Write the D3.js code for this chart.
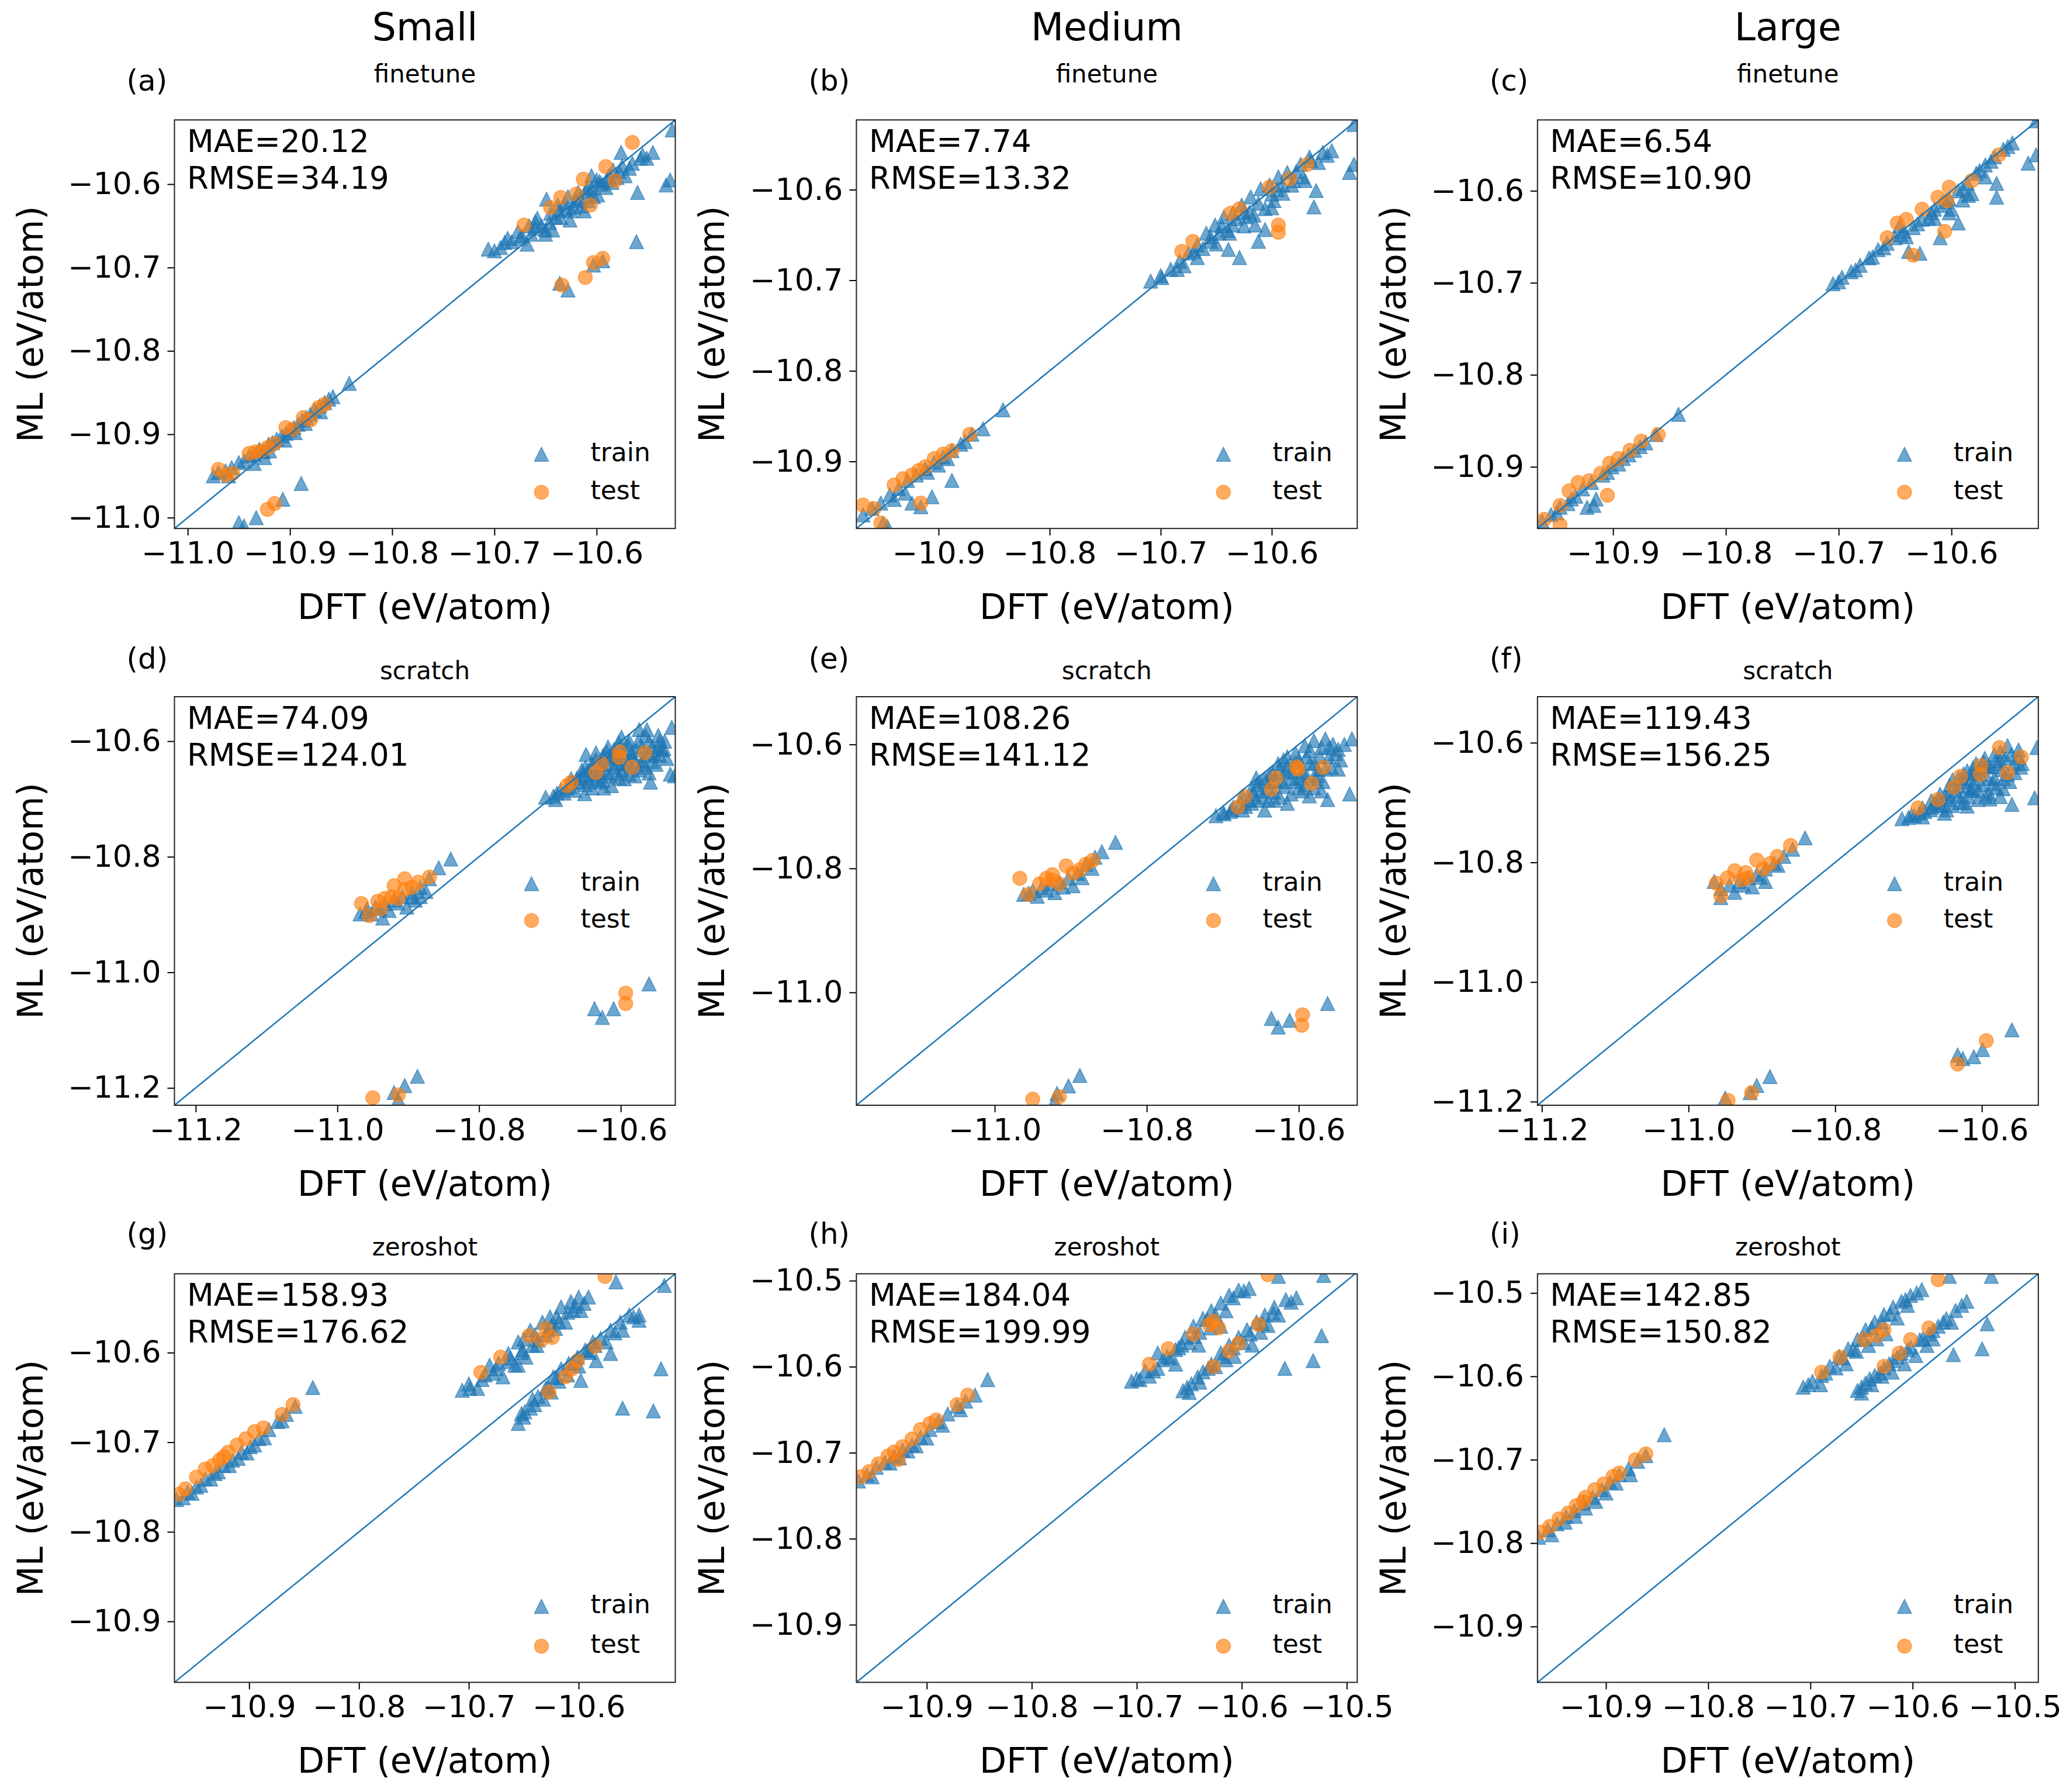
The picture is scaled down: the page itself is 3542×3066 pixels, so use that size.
<!DOCTYPE html>
<html>
<head>
<meta charset="utf-8">
<script src="https://cdn.jsdelivr.net/npm/d3@7"></script>
<style>
body{margin:0;background:#fff;}
text{font-family:'DejaVu Sans',sans-serif;fill:#000;}
</style>
</head>
<body>
<div id="graphWrapper"></div>
<script>
//chart text
const columnTitles = ['Small','Medium','Large'];
const rowTitles = ['finetune','scratch','zeroshot'];
const panelLetters = ['(a)','(b)','(c)','(d)','(e)','(f)','(g)','(h)','(i)'];
const maeValues = ['20.12','7.74','6.54','74.09','108.26','119.43','158.93','184.04','142.85'];
const rmseValues = ['34.19','13.32','10.90','124.01','141.12','156.25','176.62','199.99','150.82'];
const seriesNames = ['train','test'];

//axis limits, one per panel
const xDomains = [[-11.013,-10.523],[-10.974,-10.523],[-10.967,-10.523],
                  [-11.230,-10.523],[-11.182,-10.523],[-11.206,-10.523],
                  [-10.968,-10.512],[-10.967,-10.490],[-10.967,-10.477]];
const yDomains = [[-11.013,-10.523],[-10.974,-10.523],[-10.967,-10.523],
                  [-11.230,-10.523],[-11.182,-10.523],[-11.206,-10.523],
                  [-10.968,-10.512],[-10.967,-10.492],[-10.967,-10.477]];

//tick values
const ticksA = [-11.0,-10.9,-10.8,-10.7,-10.6];
const ticksB = [-10.9,-10.8,-10.7,-10.6];
const ticksD = [-11.2,-11.0,-10.8,-10.6];
const ticksE = [-11.0,-10.8,-10.6];
const ticksH = [-10.9,-10.8,-10.7,-10.6,-10.5];
const xTicks = [ticksA,ticksB,ticksB,ticksD,ticksE,ticksD,ticksB,ticksH,ticksH];
const yTicks = [ticksA,ticksB,ticksB,ticksD,ticksE,ticksD,ticksB,ticksH,ticksH];

//points [DFT, ML]
const trainA = [[-10.975,-10.950],[-10.970,-10.946],[-10.963,-10.944],[-10.957,-10.940],[-10.950,-10.934],[-10.945,-10.932],[-10.940,-10.926],[-10.935,-10.924],[-10.930,-10.918],[-10.926,-10.921],[-10.921,-10.912],[-10.917,-10.910],[-10.913,-10.906],[-10.908,-10.902],[-10.904,-10.899],[-10.900,-10.895],[-10.896,-10.892],[-10.892,-10.888],[-10.888,-10.883],[-10.884,-10.880],[-10.880,-10.876],[-10.876,-10.871],[-10.871,-10.866],[-10.866,-10.862],[-10.862,-10.858],[-10.858,-10.855],[-10.842,-10.839],[-10.920,-10.920],[-10.905,-10.907],[-10.935,-10.935],[-10.960,-10.950],[-10.925,-10.928],[-10.895,-10.898],[-10.885,-10.887],[-10.870,-10.873],
  [-10.889,-10.959],[-10.907,-10.978],[-10.933,-11.000],[-10.950,-11.006],[-10.945,-11.010],
  [-10.706,-10.678],[-10.700,-10.680],[-10.694,-10.676],[-10.687,-10.665],[-10.683,-10.669],[-10.677,-10.657],[-10.673,-10.662],[-10.666,-10.650],[-10.664,-10.660],[-10.658,-10.641],[-10.654,-10.650],[-10.649,-10.618],[-10.643,-10.655],[-10.640,-10.640],[-10.637,-10.632],[-10.631,-10.622],[-10.626,-10.643],[-10.622,-10.628],[-10.616,-10.618],[-10.612,-10.632],[-10.609,-10.604],[-10.605,-10.590],[-10.603,-10.615],[-10.599,-10.613],[-10.597,-10.597],[-10.591,-10.604],[-10.588,-10.590],[-10.584,-10.583],[-10.578,-10.585],[-10.572,-10.590],[-10.568,-10.581],[-10.576,-10.562],[-10.557,-10.569],[-10.551,-10.569],[-10.545,-10.562],[-10.526,-10.535],[-10.528,-10.595],[-10.532,-10.601],[-10.560,-10.610],[-10.561,-10.669],[-10.636,-10.719],[-10.628,-10.727],[-10.603,-10.697],[-10.594,-10.692],[-10.646,-10.646],[-10.620,-10.620],[-10.610,-10.608],[-10.595,-10.600],[-10.580,-10.592],[-10.630,-10.630],[-10.650,-10.660],[-10.615,-10.626],[-10.660,-10.653],
  [-10.690,-10.670],[-10.675,-10.665],[-10.660,-10.645],[-10.650,-10.655],[-10.635,-10.640],[-10.625,-10.632],[-10.618,-10.610],[-10.605,-10.605],[-10.600,-10.595],[-10.590,-10.595],[-10.575,-10.578],[-10.565,-10.575],[-10.555,-10.565],[-10.645,-10.635],[-10.668,-10.672],[-10.638,-10.625],[-10.628,-10.615],[-10.608,-10.620],[-10.585,-10.598]];
const testA = [[-10.970,-10.942],[-10.963,-10.949],[-10.956,-10.947],[-10.940,-10.923],[-10.934,-10.921],[-10.928,-10.920],[-10.922,-10.916],[-10.915,-10.911],[-10.904,-10.892],[-10.897,-10.894],[-10.887,-10.880],[-10.880,-10.883],[-10.872,-10.868],[-10.866,-10.864],[-10.922,-10.990],[-10.915,-10.983],
  [-10.565,-10.550],[-10.591,-10.579],[-10.613,-10.594],[-10.582,-10.596],[-10.620,-10.612],[-10.635,-10.616],[-10.645,-10.628],[-10.606,-10.625],[-10.671,-10.649],[-10.594,-10.689],[-10.603,-10.694],[-10.611,-10.712],[-10.634,-10.721]];

const trainB = [[-10.968,-10.959],[-10.960,-10.952],[-10.952,-10.946],[-10.944,-10.937],[-10.936,-10.930],[-10.928,-10.921],[-10.920,-10.915],[-10.912,-10.908],[-10.904,-10.901],[-10.896,-10.895],[-10.888,-10.888],[-10.880,-10.881],[-10.870,-10.870],[-10.860,-10.864],[-10.842,-10.843],[-10.888,-10.921],[-10.906,-10.939],[-10.924,-10.946],[-10.916,-10.950],[-10.950,-10.968],[-10.946,-10.972],[-10.930,-10.935],[-10.910,-10.912],[-10.892,-10.897],[-10.940,-10.942],[-10.900,-10.904],[-10.876,-10.878],
  [-10.709,-10.701],[-10.699,-10.697],[-10.691,-10.688],[-10.683,-10.679],[-10.675,-10.670],[-10.667,-10.661],[-10.659,-10.648],[-10.651,-10.639],[-10.643,-10.630],[-10.635,-10.626],[-10.627,-10.617],[-10.619,-10.608],[-10.610,-10.599],[-10.602,-10.595],[-10.594,-10.586],[-10.586,-10.581],[-10.574,-10.572],[-10.566,-10.564],[-10.554,-10.559],[-10.546,-10.557],[-10.572,-10.586],[-10.582,-10.595],[-10.590,-10.604],[-10.606,-10.621],[-10.623,-10.630],[-10.635,-10.639],[-10.647,-10.648],[-10.655,-10.657],[-10.667,-10.675],[-10.679,-10.684],[-10.615,-10.639],[-10.598,-10.612],[-10.530,-10.581],[-10.526,-10.572],[-10.560,-10.601],[-10.562,-10.619],[-10.606,-10.644],[-10.612,-10.657],[-10.639,-10.666],[-10.629,-10.675],[-10.526,-10.528],[-10.550,-10.562],[-10.640,-10.645],[-10.620,-10.625],[-10.580,-10.590],
  [-10.700,-10.695],[-10.685,-10.688],[-10.670,-10.668],[-10.655,-10.652],[-10.645,-10.640],[-10.632,-10.632],[-10.625,-10.625],[-10.612,-10.615],[-10.600,-10.605],[-10.590,-10.595],[-10.578,-10.580],[-10.565,-10.568],[-10.558,-10.570],[-10.600,-10.620],[-10.625,-10.640],[-10.650,-10.660],[-10.570,-10.590],[-10.662,-10.665],[-10.638,-10.648],[-10.616,-10.628],[-10.595,-10.600]];
const testB = [[-10.968,-10.948],[-10.958,-10.952],[-10.952,-10.968],[-10.940,-10.926],[-10.932,-10.919],[-10.924,-10.915],[-10.912,-10.906],[-10.904,-10.897],[-10.896,-10.892],[-10.888,-10.888],[-10.872,-10.870],[-10.916,-10.946],[-10.918,-10.910],
  [-10.681,-10.668],[-10.671,-10.657],[-10.637,-10.626],[-10.629,-10.621],[-10.602,-10.597],[-10.584,-10.588],[-10.568,-10.572],[-10.594,-10.639],[-10.594,-10.647]];

const trainC = [[-10.963,-10.959],[-10.955,-10.952],[-10.947,-10.944],[-10.937,-10.935],[-10.927,-10.924],[-10.919,-10.917],[-10.909,-10.909],[-10.901,-10.900],[-10.891,-10.891],[-10.881,-10.882],[-10.871,-10.874],[-10.862,-10.865],[-10.842,-10.843],[-10.923,-10.944],[-10.917,-10.942],[-10.915,-10.935],[-10.933,-10.932],[-10.905,-10.906],[-10.895,-10.897],[-10.940,-10.940],[-10.950,-10.950],[-10.886,-10.887],[-10.876,-10.878],
  [-10.705,-10.701],[-10.697,-10.694],[-10.689,-10.688],[-10.681,-10.681],[-10.673,-10.673],[-10.665,-10.664],[-10.657,-10.657],[-10.650,-10.651],[-10.642,-10.644],[-10.634,-10.640],[-10.626,-10.631],[-10.618,-10.624],[-10.610,-10.616],[-10.602,-10.609],[-10.594,-10.600],[-10.586,-10.592],[-10.578,-10.581],[-10.570,-10.572],[-10.562,-10.563],[-10.554,-10.555],[-10.546,-10.548],[-10.532,-10.570],[-10.525,-10.561],[-10.525,-10.524],[-10.560,-10.592],[-10.560,-10.607],[-10.594,-10.635],[-10.610,-10.651],[-10.628,-10.668],[-10.638,-10.666],[-10.646,-10.638],[-10.602,-10.624],[-10.582,-10.603],[-10.620,-10.630],[-10.590,-10.610],[-10.570,-10.585],
  [-10.700,-10.699],[-10.685,-10.686],[-10.670,-10.672],[-10.660,-10.662],[-10.645,-10.648],[-10.630,-10.636],[-10.615,-10.620],[-10.605,-10.612],[-10.590,-10.598],[-10.575,-10.578],[-10.565,-10.568],[-10.550,-10.552],[-10.615,-10.630],[-10.600,-10.620],[-10.585,-10.605],[-10.640,-10.650]];
const testC = [[-10.961,-10.957],[-10.947,-10.942],[-10.939,-10.926],[-10.931,-10.917],[-10.921,-10.915],[-10.911,-10.907],[-10.903,-10.896],[-10.895,-10.891],[-10.885,-10.882],[-10.875,-10.872],[-10.860,-10.865],[-10.905,-10.931],[-10.947,-10.963],
  [-10.657,-10.651],[-10.648,-10.635],[-10.640,-10.631],[-10.626,-10.620],[-10.612,-10.607],[-10.602,-10.596],[-10.582,-10.589],[-10.558,-10.561],[-10.606,-10.644],[-10.634,-10.670],[-10.604,-10.611]];

const trainD = [[-10.968,-10.899],[-10.958,-10.890],[-10.946,-10.887],[-10.933,-10.881],[-10.920,-10.875],[-10.908,-10.869],[-10.895,-10.862],[-10.883,-10.853],[-10.870,-10.838],[-10.857,-10.819],[-10.840,-10.804],[-10.952,-10.899],[-10.927,-10.893],[-10.902,-10.887],[-10.883,-10.869],[-10.936,-10.906],[-10.915,-10.880],[-10.890,-10.875],[-10.960,-10.895],[-10.940,-10.890],[-10.895,-10.870],[-10.875,-10.860],
  [-10.706,-10.697],[-10.692,-10.701],[-10.676,-10.681],[-10.668,-10.671],[-10.657,-10.664],[-10.649,-10.623],[-10.635,-10.620],[-10.629,-10.650],[-10.618,-10.610],[-10.607,-10.627],[-10.599,-10.593],[-10.588,-10.600],[-10.574,-10.580],[-10.563,-10.580],[-10.547,-10.590],[-10.539,-10.613],[-10.528,-10.576],[-10.530,-10.657],[-10.524,-10.660],[-10.558,-10.671],[-10.651,-10.691],[-10.624,-10.681],[-10.613,-10.677],[-10.602,-10.664],[-10.588,-10.657],[-10.574,-10.650],[-10.569,-10.634],[-10.596,-10.640],[-10.629,-10.671],[-10.640,-10.681],[-10.662,-10.664],[-10.646,-10.650],[-10.547,-10.610],[-10.552,-10.623],[-10.585,-10.620],[-10.610,-10.645],[-10.620,-10.655],[-10.580,-10.635],[-10.560,-10.600],[-10.600,-10.615],[-10.640,-10.660],[-10.570,-10.610],[-10.590,-10.640],[-10.615,-10.630],
  [-10.680,-10.690],[-10.665,-10.685],[-10.650,-10.675],[-10.635,-10.665],[-10.625,-10.668],[-10.605,-10.655],[-10.595,-10.665],[-10.580,-10.660],[-10.565,-10.645],[-10.555,-10.635],[-10.545,-10.625],[-10.560,-10.620],[-10.575,-10.600],[-10.590,-10.605],[-10.610,-10.615],[-10.625,-10.625],[-10.640,-10.640],[-10.655,-10.650],[-10.670,-10.665],[-10.690,-10.690],[-10.600,-10.630],[-10.620,-10.640],[-10.585,-10.625],[-10.565,-10.590],[-10.545,-10.600],
  [-10.695,-10.695],[-10.685,-10.685],[-10.672,-10.678],[-10.660,-10.670],[-10.652,-10.658],[-10.645,-10.670],[-10.632,-10.655],[-10.628,-10.640],[-10.615,-10.660],[-10.612,-10.625],[-10.605,-10.638],[-10.598,-10.650],[-10.592,-10.620],[-10.585,-10.645],[-10.578,-10.615],[-10.572,-10.640],[-10.566,-10.625],[-10.560,-10.655],[-10.555,-10.610],[-10.550,-10.640],[-10.542,-10.615],[-10.538,-10.600],[-10.535,-10.630],[-10.603,-10.602],[-10.620,-10.618],[-10.635,-10.632],[-10.650,-10.645],
  [-10.637,-11.063],[-10.626,-11.078],[-10.610,-11.063],[-10.560,-11.020],[-10.887,-11.180],[-10.905,-11.196],[-10.920,-11.208],[-10.914,-11.220]];
const testD = [[-10.966,-10.881],[-10.955,-10.902],[-10.943,-10.877],[-10.933,-10.872],[-10.923,-10.869],[-10.914,-10.872],[-10.905,-10.856],[-10.895,-10.853],[-10.886,-10.844],[-10.870,-10.835],[-10.905,-10.838],[-10.920,-10.850],[-10.939,-10.890],
  [-10.676,-10.677],[-10.670,-10.671],[-10.635,-10.654],[-10.627,-10.639],[-10.602,-10.618],[-10.602,-10.628],[-10.584,-10.645],[-10.566,-10.620],
  [-10.593,-11.036],[-10.593,-11.054],[-10.950,-11.217],[-10.914,-11.212]];

const trainE = [[-10.962,-10.842],[-10.950,-10.836],[-10.938,-10.831],[-10.927,-10.825],[-10.915,-10.822],[-10.903,-10.816],[-10.891,-10.808],[-10.880,-10.793],[-10.868,-10.782],[-10.859,-10.773],[-10.841,-10.758],[-10.944,-10.845],[-10.921,-10.839],[-10.897,-10.828],[-10.910,-10.830],[-10.955,-10.840],[-10.932,-10.835],[-10.885,-10.815],[-10.872,-10.800],
  [-10.709,-10.715],[-10.698,-10.712],[-10.686,-10.701],[-10.674,-10.683],[-10.662,-10.672],[-10.651,-10.660],[-10.639,-10.649],[-10.627,-10.631],[-10.615,-10.620],[-10.604,-10.614],[-10.592,-10.602],[-10.580,-10.594],[-10.565,-10.591],[-10.548,-10.608],[-10.530,-10.591],[-10.562,-10.689],[-10.533,-10.680],[-10.645,-10.706],[-10.615,-10.695],[-10.586,-10.683],[-10.568,-10.660],[-10.598,-10.654],[-10.633,-10.677],[-10.662,-10.695],[-10.674,-10.706],[-10.580,-10.631],[-10.557,-10.637],[-10.621,-10.660],[-10.656,-10.654],[-10.609,-10.643],[-10.640,-10.670],[-10.600,-10.670],[-10.590,-10.620],[-10.625,-10.640],[-10.575,-10.650],
  [-10.690,-10.708],[-10.670,-10.700],[-10.655,-10.690],[-10.640,-10.690],[-10.625,-10.685],[-10.610,-10.680],[-10.595,-10.675],[-10.580,-10.670],[-10.570,-10.675],[-10.650,-10.675],[-10.630,-10.660],[-10.610,-10.655],[-10.590,-10.650],[-10.575,-10.640],[-10.560,-10.620],[-10.545,-10.625],[-10.615,-10.635],[-10.600,-10.625],[-10.585,-10.610],[-10.570,-10.605],[-10.645,-10.655],[-10.660,-10.680],[-10.555,-10.600],
  [-10.700,-10.710],[-10.688,-10.705],[-10.676,-10.695],[-10.665,-10.690],[-10.655,-10.665],[-10.648,-10.685],[-10.638,-10.660],[-10.632,-10.690],[-10.620,-10.668],[-10.618,-10.645],[-10.605,-10.660],[-10.605,-10.630],[-10.595,-10.645],[-10.592,-10.665],[-10.585,-10.630],[-10.578,-10.655],[-10.572,-10.620],[-10.565,-10.640],[-10.560,-10.605],[-10.552,-10.615],[-10.548,-10.640],[-10.540,-10.600],[-10.620,-10.625],[-10.635,-10.645],
  [-10.636,-11.042],[-10.627,-11.056],[-10.612,-11.045],[-10.562,-11.018],[-10.888,-11.134],[-10.903,-11.151],[-10.918,-11.163],[-10.921,-11.175]];
const testE = [[-10.967,-10.816],[-10.956,-10.842],[-10.941,-10.825],[-10.932,-10.816],[-10.924,-10.819],[-10.915,-10.825],[-10.906,-10.796],[-10.897,-10.808],[-10.888,-10.802],[-10.880,-10.793],[-10.871,-10.787],[-10.924,-10.810],
  [-10.680,-10.701],[-10.671,-10.684],[-10.636,-10.672],[-10.630,-10.654],[-10.601,-10.640],[-10.603,-10.636],[-10.583,-10.663],[-10.568,-10.637],
  [-10.595,-11.036],[-10.596,-11.053],[-10.950,-11.172],[-10.915,-11.168]];

const trainF = [[-10.965,-10.832],[-10.956,-10.844],[-10.944,-10.838],[-10.931,-10.832],[-10.919,-10.826],[-10.907,-10.820],[-10.895,-10.811],[-10.883,-10.802],[-10.870,-10.790],[-10.858,-10.778],[-10.841,-10.759],[-10.937,-10.850],[-10.913,-10.841],[-10.895,-10.832],[-10.956,-10.859],[-10.925,-10.838],[-10.902,-10.825],[-10.878,-10.805],
  [-10.709,-10.727],[-10.696,-10.721],[-10.681,-10.709],[-10.669,-10.697],[-10.657,-10.686],[-10.644,-10.671],[-10.632,-10.659],[-10.620,-10.647],[-10.608,-10.635],[-10.596,-10.626],[-10.583,-10.620],[-10.565,-10.605],[-10.547,-10.641],[-10.525,-10.608],[-10.559,-10.703],[-10.528,-10.692],[-10.651,-10.718],[-10.620,-10.706],[-10.589,-10.694],[-10.571,-10.677],[-10.583,-10.659],[-10.614,-10.677],[-10.644,-10.695],[-10.681,-10.724],[-10.565,-10.653],[-10.602,-10.653],[-10.632,-10.689],[-10.610,-10.665],[-10.590,-10.640],[-10.660,-10.705],[-10.550,-10.625],[-10.575,-10.630],
  [-10.700,-10.725],[-10.685,-10.718],[-10.670,-10.712],[-10.655,-10.705],[-10.640,-10.705],[-10.625,-10.700],[-10.605,-10.695],[-10.590,-10.685],[-10.575,-10.690],[-10.665,-10.700],[-10.650,-10.690],[-10.635,-10.680],[-10.620,-10.675],[-10.600,-10.670],[-10.585,-10.668],[-10.570,-10.660],[-10.555,-10.650],[-10.545,-10.635],[-10.625,-10.665],[-10.610,-10.650],[-10.595,-10.640],[-10.580,-10.635],[-10.560,-10.620],[-10.575,-10.615],[-10.615,-10.680],
  [-10.692,-10.722],[-10.678,-10.715],[-10.668,-10.708],[-10.658,-10.695],[-10.645,-10.685],[-10.648,-10.712],[-10.632,-10.672],[-10.630,-10.700],[-10.618,-10.690],[-10.616,-10.660],[-10.605,-10.680],[-10.603,-10.645],[-10.595,-10.690],[-10.592,-10.660],[-10.586,-10.640],[-10.580,-10.675],[-10.573,-10.645],[-10.568,-10.625],[-10.562,-10.665],[-10.556,-10.635],[-10.550,-10.612],[-10.598,-10.632],[-10.612,-10.642],[-10.625,-10.652],[-10.640,-10.662],
  [-10.633,-11.122],[-10.626,-11.128],[-10.611,-11.125],[-10.599,-11.113],[-10.559,-11.080],[-10.889,-11.158],[-10.907,-11.173],[-10.916,-11.185],[-10.950,-11.194]];
const testF = [[-10.962,-10.835],[-10.956,-10.856],[-10.947,-10.826],[-10.937,-10.814],[-10.928,-10.829],[-10.919,-10.826],[-10.907,-10.796],[-10.898,-10.811],[-10.889,-10.802],[-10.879,-10.790],[-10.861,-10.772],[-10.922,-10.817],
  [-10.687,-10.709],[-10.660,-10.695],[-10.638,-10.674],[-10.629,-10.656],[-10.602,-10.653],[-10.601,-10.638],[-10.576,-10.608],[-10.565,-10.650],[-10.546,-10.624],
  [-10.633,-11.137],[-10.594,-11.098],[-10.946,-11.198],[-10.914,-11.185]];

const trainG = [[-10.966,-10.764],[-10.956,-10.756],[-10.948,-10.750],[-10.940,-10.741],[-10.931,-10.735],[-10.923,-10.726],[-10.915,-10.720],[-10.907,-10.711],[-10.899,-10.705],[-10.891,-10.696],[-10.882,-10.686],[-10.874,-10.677],[-10.866,-10.669],[-10.858,-10.660],[-10.842,-10.639],[-10.960,-10.762],[-10.944,-10.748],[-10.928,-10.733],[-10.910,-10.718],[-10.895,-10.703],[-10.952,-10.757],[-10.935,-10.741],[-10.918,-10.726],[-10.902,-10.712],[-10.886,-10.695],[-10.870,-10.676],
  [-10.706,-10.642],[-10.699,-10.640],[-10.692,-10.640],[-10.678,-10.623],[-10.669,-10.627],[-10.664,-10.601],[-10.658,-10.614],[-10.655,-10.588],[-10.648,-10.605],[-10.644,-10.575],[-10.637,-10.586],[-10.633,-10.566],[-10.626,-10.560],[-10.621,-10.573],[-10.616,-10.549],[-10.612,-10.566],[-10.607,-10.543],[-10.600,-10.538],[-10.591,-10.538],[-10.598,-10.553],[-10.605,-10.553],[-10.681,-10.614],[-10.673,-10.612],[-10.651,-10.597],[-10.642,-10.592],[-10.655,-10.614],[-10.630,-10.580],[-10.620,-10.560],[-10.685,-10.625],[-10.665,-10.610],[-10.650,-10.585],[-10.640,-10.580],[-10.625,-10.570],[-10.610,-10.555],
  [-10.700,-10.635],[-10.688,-10.630],[-10.675,-10.618],[-10.662,-10.606],[-10.652,-10.600],[-10.638,-10.592],[-10.628,-10.575],[-10.618,-10.565],[-10.603,-10.548],[-10.595,-10.545],
  [-10.655,-10.679],[-10.649,-10.666],[-10.644,-10.662],[-10.637,-10.649],[-10.630,-10.640],[-10.623,-10.627],[-10.616,-10.618],[-10.609,-10.612],[-10.601,-10.605],[-10.598,-10.631],[-10.594,-10.597],[-10.587,-10.588],[-10.580,-10.584],[-10.571,-10.575],[-10.562,-10.566],[-10.554,-10.558],[-10.545,-10.558],[-10.545,-10.564],[-10.571,-10.601],[-10.584,-10.609],[-10.625,-10.644],[-10.640,-10.658],[-10.610,-10.625],[-10.650,-10.672],[-10.632,-10.652],[-10.618,-10.632],[-10.600,-10.615],[-10.590,-10.600],[-10.575,-10.588],[-10.560,-10.575],
  [-10.652,-10.668],[-10.642,-10.652],[-10.628,-10.638],[-10.620,-10.628],[-10.605,-10.612],[-10.592,-10.598],[-10.585,-10.592],[-10.567,-10.578],[-10.550,-10.560],
  [-10.522,-10.525],[-10.566,-10.521],[-10.525,-10.618],[-10.560,-10.662],[-10.532,-10.665]];
const testG = [[-10.964,-10.758],[-10.958,-10.752],[-10.948,-10.739],[-10.940,-10.730],[-10.933,-10.726],[-10.927,-10.720],[-10.919,-10.711],[-10.911,-10.703],[-10.903,-10.696],[-10.895,-10.688],[-10.887,-10.684],[-10.870,-10.669],[-10.860,-10.658],[-10.923,-10.716],
  [-10.689,-10.622],[-10.671,-10.605],[-10.645,-10.581],[-10.634,-10.586],[-10.630,-10.573],[-10.624,-10.583],[-10.576,-10.515],
  [-10.627,-10.644],[-10.612,-10.627],[-10.606,-10.618],[-10.601,-10.609],[-10.585,-10.593]];

const trainH = [[-10.965,-10.733],[-10.957,-10.726],[-10.948,-10.717],[-10.940,-10.711],[-10.931,-10.704],[-10.923,-10.697],[-10.914,-10.691],[-10.906,-10.682],[-10.897,-10.673],[-10.889,-10.664],[-10.880,-10.655],[-10.871,-10.646],[-10.863,-10.640],[-10.854,-10.633],[-10.842,-10.615],[-10.935,-10.712],[-10.918,-10.698],[-10.900,-10.683],[-10.952,-10.728],[-10.926,-10.706],[-10.910,-10.692],[-10.885,-10.668],[-10.868,-10.650],
  [-10.705,-10.617],[-10.697,-10.615],[-10.688,-10.611],[-10.680,-10.602],[-10.671,-10.588],[-10.663,-10.580],[-10.654,-10.566],[-10.646,-10.553],[-10.637,-10.544],[-10.629,-10.535],[-10.620,-10.526],[-10.612,-10.517],[-10.603,-10.511],[-10.593,-10.509],[-10.663,-10.597],[-10.641,-10.575],[-10.620,-10.553],[-10.680,-10.584],[-10.650,-10.572],[-10.630,-10.555],[-10.692,-10.605],[-10.675,-10.592],[-10.660,-10.578],[-10.640,-10.560],[-10.615,-10.535],
  [-10.700,-10.614],[-10.684,-10.605],[-10.668,-10.590],[-10.657,-10.575],[-10.645,-10.565],[-10.633,-10.545],[-10.625,-10.540],[-10.608,-10.520],[-10.598,-10.512],
  [-10.656,-10.628],[-10.648,-10.620],[-10.637,-10.606],[-10.629,-10.597],[-10.620,-10.584],[-10.612,-10.575],[-10.603,-10.566],[-10.595,-10.557],[-10.586,-10.548],[-10.578,-10.540],[-10.569,-10.531],[-10.558,-10.522],[-10.548,-10.520],[-10.607,-10.588],[-10.590,-10.575],[-10.640,-10.618],[-10.575,-10.552],[-10.650,-10.630],[-10.625,-10.600],[-10.615,-10.592],[-10.598,-10.572],[-10.582,-10.560],[-10.565,-10.540],
  [-10.652,-10.624],[-10.642,-10.612],[-10.632,-10.602],[-10.618,-10.588],[-10.608,-10.578],[-10.592,-10.562],[-10.580,-10.550],[-10.570,-10.538],[-10.553,-10.525],
  [-10.565,-10.495],[-10.522,-10.494],[-10.524,-10.564],[-10.559,-10.602],[-10.532,-10.593]];
const testH = [[-10.963,-10.728],[-10.955,-10.722],[-10.946,-10.713],[-10.937,-10.704],[-10.931,-10.699],[-10.923,-10.693],[-10.914,-10.684],[-10.906,-10.673],[-10.897,-10.666],[-10.891,-10.662],[-10.871,-10.644],[-10.861,-10.633],[-10.927,-10.708],
  [-10.688,-10.597],[-10.670,-10.579],[-10.646,-10.562],[-10.631,-10.551],[-10.627,-10.547],[-10.622,-10.555],[-10.575,-10.493],
  [-10.627,-10.600],[-10.612,-10.582],[-10.603,-10.573],[-10.584,-10.551]];

const trainI = [[-10.966,-10.793],[-10.957,-10.784],[-10.948,-10.777],[-10.939,-10.768],[-10.931,-10.761],[-10.922,-10.752],[-10.913,-10.745],[-10.904,-10.736],[-10.896,-10.727],[-10.887,-10.718],[-10.878,-10.711],[-10.869,-10.702],[-10.861,-10.695],[-10.843,-10.670],[-10.876,-10.718],[-10.940,-10.775],[-10.920,-10.758],[-10.900,-10.740],[-10.953,-10.790],[-10.930,-10.768],[-10.910,-10.750],[-10.890,-10.728],
  [-10.707,-10.613],[-10.698,-10.606],[-10.689,-10.599],[-10.681,-10.588],[-10.672,-10.576],[-10.663,-10.567],[-10.654,-10.556],[-10.646,-10.544],[-10.637,-10.535],[-10.628,-10.526],[-10.619,-10.517],[-10.611,-10.510],[-10.602,-10.503],[-10.591,-10.496],[-10.665,-10.585],[-10.643,-10.563],[-10.626,-10.549],[-10.690,-10.610],[-10.655,-10.570],[-10.675,-10.590],[-10.635,-10.555],[-10.615,-10.530],[-10.605,-10.515],
  [-10.702,-10.610],[-10.685,-10.596],[-10.668,-10.578],[-10.658,-10.568],[-10.648,-10.555],[-10.640,-10.542],[-10.630,-10.535],[-10.622,-10.525],[-10.607,-10.508],[-10.596,-10.500],
  [-10.654,-10.617],[-10.646,-10.608],[-10.637,-10.599],[-10.628,-10.590],[-10.619,-10.581],[-10.611,-10.572],[-10.602,-10.565],[-10.593,-10.556],[-10.584,-10.549],[-10.575,-10.540],[-10.567,-10.531],[-10.558,-10.521],[-10.547,-10.510],[-10.608,-10.585],[-10.586,-10.563],[-10.640,-10.610],[-10.620,-10.595],[-10.650,-10.620],[-10.630,-10.600],[-10.597,-10.575],[-10.580,-10.555],[-10.562,-10.535],
  [-10.650,-10.613],[-10.642,-10.603],[-10.632,-10.596],[-10.623,-10.585],[-10.615,-10.577],[-10.605,-10.568],[-10.590,-10.555],[-10.580,-10.545],[-10.570,-10.535],[-10.552,-10.515],
  [-10.564,-10.480],[-10.523,-10.480],[-10.527,-10.537],[-10.560,-10.574],[-10.532,-10.567]];
const testI = [[-10.964,-10.787],[-10.955,-10.780],[-10.946,-10.771],[-10.937,-10.764],[-10.929,-10.755],[-10.920,-10.745],[-10.911,-10.736],[-10.902,-10.729],[-10.893,-10.720],[-10.887,-10.716],[-10.871,-10.700],[-10.861,-10.693],[-10.922,-10.750],
  [-10.689,-10.595],[-10.671,-10.577],[-10.647,-10.556],[-10.635,-10.551],[-10.628,-10.544],[-10.575,-10.484],
  [-10.628,-10.588],[-10.613,-10.572],[-10.602,-10.556],[-10.584,-10.542]];

const trainSets = [trainA,trainB,trainC,trainD,trainE,trainF,trainG,trainH,trainI];
const testSets = [testA,testB,testC,testD,testE,testF,testG,testH,testI];

//constants
const CONSTANTS = {
    WIDTH:3542,
    HEIGHT:3066,
    PLOT_LEFT:[298.5,1465.4,2630.8],   //left edge of each column of axes
    PLOT_TOP:[205.2,1192,2179.4],      //top edge of each row of axes
    PLOT_W:857,
    PLOT_H:699,
    TRAIN:'#1f77b4',
    TEST:'#ff7f0e',
    ALPHA:0.65,
    MARKER:12,                         //half size of the markers
    TITLE_Y:69,                        //baseline of Small / Medium / Large
    ROW_TITLE_Y:[141,1162,2148],       //baseline of finetune / scratch / zeroshot
    LETTER_Y:[155,1144,2128],
    //legend offsets from the bottom left of the axes
    LEGEND:[{mx:628,tx:712,y1:-127,y2:-62},{mx:611,tx:695,y1:-379,y2:-316},{mx:628,tx:712,y1:-130,y2:-62}]
};

function main(){
    let svg = d3.select('#graphWrapper')
        .append('svg')
        .attr('width',CONSTANTS.WIDTH)
        .attr('height',CONSTANTS.HEIGHT)
        .style('background','#fff');

    //column titles
    columnTitles.forEach((t,c)=>{
        svg.append('text')
            .attr('x',CONSTANTS.PLOT_LEFT[c] + CONSTANTS.PLOT_W/2)
            .attr('y',CONSTANTS.TITLE_Y)
            .attr('text-anchor','middle')
            .style('font-size','65px')
            .text(t);
    });

    for(let i = 0; i < 9; i++){
        buildPanel(svg,i);
    }
}

function trianglePath(r){
    return 'M0,' + (-r) + 'L' + r + ',' + r + 'L' + (-r) + ',' + r + 'Z';
}

//shared look of the markers
function markerStyle(sel,color){
    sel.style('fill',color)
        .style('fill-opacity',CONSTANTS.ALPHA)
        .style('stroke',color)
        .style('stroke-opacity',CONSTANTS.ALPHA)
        .style('stroke-width',1.5);
}

function buildPanel(svg,i){
    let row = Math.floor(i/3);
    let col = i % 3;
    let left = CONSTANTS.PLOT_LEFT[col];
    let top = CONSTANTS.PLOT_TOP[row];
    let w = CONSTANTS.PLOT_W;
    let h = CONSTANTS.PLOT_H;
    let fmt = d3.format('.1f');

    let x = d3.scaleLinear().domain(xDomains[i]).range([0,w]);
    let y = d3.scaleLinear().domain(yDomains[i]).range([h,0]);

    //panel letter and subtitle
    svg.append('text')
        .attr('x',left - 82)
        .attr('y',CONSTANTS.LETTER_Y[row])
        .style('font-size','50px')
        .text(panelLetters[i]);
    svg.append('text')
        .attr('x',left + w/2)
        .attr('y',CONSTANTS.ROW_TITLE_Y[row])
        .attr('text-anchor','middle')
        .style('font-size','42px')
        .text(rowTitles[row]);

    let g = svg.append('g').attr('transform','translate(' + left + ',' + top + ')');

    g.append('clipPath')
        .attr('id','clip' + i)
        .append('rect')
        .attr('width',w)
        .attr('height',h);

    let plot = g.append('g').attr('clip-path','url(#clip' + i + ')');

    //train triangles
    plot.selectAll('path.train')
        .data(trainSets[i])
        .enter()
        .append('path')
        .attr('class','train')
        .attr('d',trianglePath(CONSTANTS.MARKER))
        .attr('transform',d=>'translate(' + x(d[0]) + ',' + y(d[1]) + ')')
        .call(markerStyle,CONSTANTS.TRAIN);

    //test circles
    plot.selectAll('circle.test')
        .data(testSets[i])
        .enter()
        .append('circle')
        .attr('class','test')
        .attr('cx',d=>x(d[0]))
        .attr('cy',d=>y(d[1]))
        .attr('r',CONSTANTS.MARKER)
        .call(markerStyle,CONSTANTS.TEST);

    //y = x reference line
    let lo = Math.max(xDomains[i][0],yDomains[i][0]);
    let hi = Math.min(xDomains[i][1],yDomains[i][1]);
    plot.append('line')
        .attr('x1',x(lo)).attr('y1',y(lo))
        .attr('x2',x(hi)).attr('y2',y(hi))
        .style('stroke',CONSTANTS.TRAIN)
        .style('stroke-width',2.5);

    //axes
    let xAxis = d3.axisBottom(x).tickValues(xTicks[i]).tickFormat(fmt).tickSize(12).tickPadding(11);
    let yAxis = d3.axisLeft(y).tickValues(yTicks[i]).tickFormat(fmt).tickSize(12).tickPadding(11);

    let gx = g.append('g').attr('transform','translate(0,' + h + ')').call(xAxis);
    let gy = g.append('g').call(yAxis);
    [gx,gy].forEach(a=>{
        a.select('.domain').remove();
        a.selectAll('line').style('stroke','#000').style('stroke-width',2);
        a.selectAll('text')
            .style('font-size','52px')
            .style('font-family',"'DejaVu Sans',sans-serif")
            .style('fill','#000');
    });

    //frame
    g.append('rect')
        .attr('width',w)
        .attr('height',h)
        .style('fill','none')
        .style('stroke','#222')
        .style('stroke-width',2);

    //axis labels
    g.append('text')
        .attr('x',w/2)
        .attr('y',h + 155)
        .attr('text-anchor','middle')
        .style('font-size','60px')
        .text('DFT (eV/atom)');
    g.append('text')
        .attr('transform','translate(-226,' + (h/2) + ') rotate(-90)')
        .attr('text-anchor','middle')
        .style('font-size','60px')
        .text('ML (eV/atom)');

    //error text
    g.append('text')
        .attr('x',21.5)
        .attr('y',55)
        .style('font-size','53px')
        .text('MAE=' + maeValues[i]);
    g.append('text')
        .attr('x',21.5)
        .attr('y',118)
        .style('font-size','53px')
        .text('RMSE=' + rmseValues[i]);

    buildLegend(g,row,h);
}

function buildLegend(g,row,h){
    let lg = CONSTANTS.LEGEND[row];
    let leg = g.append('g');

    leg.append('path')
        .attr('d',trianglePath(CONSTANTS.MARKER))
        .attr('transform','translate(' + lg.mx + ',' + (h + lg.y1) + ')')
        .call(markerStyle,CONSTANTS.TRAIN);
    leg.append('circle')
        .attr('cx',lg.mx)
        .attr('cy',h + lg.y2)
        .attr('r',CONSTANTS.MARKER)
        .call(markerStyle,CONSTANTS.TEST);

    leg.append('text')
        .attr('x',lg.tx)
        .attr('y',h + lg.y1 + 12)
        .style('font-size','44px')
        .text(seriesNames[0]);
    leg.append('text')
        .attr('x',lg.tx)
        .attr('y',h + lg.y2 + 12)
        .style('font-size','44px')
        .text(seriesNames[1]);
}

main();
</script>
</body>
</html>
